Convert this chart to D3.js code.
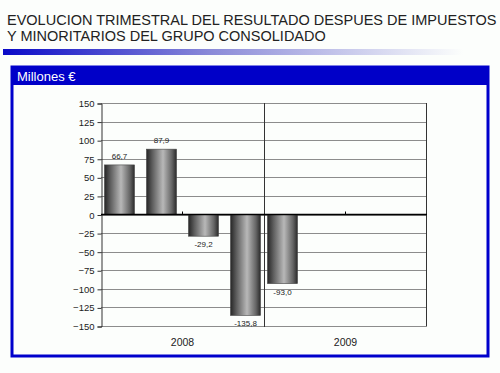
<!DOCTYPE html>
<html>
<head>
<meta charset="utf-8">
<script src="https://cdn.jsdelivr.net/npm/d3@7"></script>
<style>
  body { margin: 0; background: #fcfefc; }
  svg { display: block; font-family: Arial, "Liberation Sans", sans-serif; }
</style>
</head>
<body>
<svg id="chart" width="500" height="373"></svg>
<script>
const years = ["2008", "2009"];
const quarters = ["T1", "T2", "T3", "T4"];
const results = [
  { year: "2008", q: "T1", value: 66.7 },
  { year: "2008", q: "T2", value: 87.9 },
  { year: "2008", q: "T3", value: -29.2 },
  { year: "2008", q: "T4", value: -135.8 },
  { year: "2009", q: "T1", value: -93.0 }
];
const yTicks = [150, 125, 100, 75, 50, 25, 0, -25, -50, -75, -100, -125, -150];

const svg = d3.select("#chart");

// title
const title = svg.append("text")
    .attr("x", 7)
    .attr("y", 25)
    .style("font-size", "14.5px")
    .style("fill", "#222");
title.append("tspan").attr("x", 7).text("EVOLUCION TRIMESTRAL DEL RESULTADO DESPUES DE IMPUESTOS");
title.append("tspan").attr("x", 7).attr("dy", 15.5).text("Y MINORITARIOS DEL GRUPO CONSOLIDADO");

const defs = svg.append("defs");
const band = defs.append("linearGradient").attr("id", "titleBand");
band.append("stop").attr("offset", "0%").attr("stop-color", "#0a0ac8");
band.append("stop").attr("offset", "45%").attr("stop-color", "#8a8ad8");
band.append("stop").attr("offset", "100%").attr("stop-color", "#fcfefc");
svg.append("rect")
    .attr("x", 3).attr("y", 49)
    .attr("width", 460).attr("height", 6)
    .attr("fill", "url(#titleBand)");

const barGrad = defs.append("linearGradient").attr("id", "barGrad");
barGrad.append("stop").attr("offset", "0%").attr("stop-color", "#262626");
barGrad.append("stop").attr("offset", "20%").attr("stop-color", "#5e5e5e");
barGrad.append("stop").attr("offset", "55%").attr("stop-color", "#b8b8b8");
barGrad.append("stop").attr("offset", "85%").attr("stop-color", "#646464");
barGrad.append("stop").attr("offset", "100%").attr("stop-color", "#2a2a2a");

// frame
svg.append("rect")
    .attr("x", 12).attr("y", 67)
    .attr("width", 476).attr("height", 289)
    .attr("fill", "none")
    .attr("stroke", "#0000cc")
    .attr("stroke-width", 3);
svg.append("rect")
    .attr("x", 11).attr("y", 67)
    .attr("width", 478).attr("height", 18)
    .attr("fill", "#0000c8");
svg.append("text")
    .attr("x", 17).attr("y", 81)
    .style("font-size", "13px")
    .style("fill", "#fff")
    .text("Millones €");

// scales
const plotL = 101, plotR = 427, plotT = 103, plotB = 326;
const y = d3.scaleLinear().domain([-150, 150]).range([plotB, plotT]);
const xYear = d3.scaleBand().domain(years).range([plotL, plotR]);
const xQ = d3.scaleBand().domain(quarters)
    .range([0, xYear.bandwidth()])
    .paddingInner(0.286)
    .paddingOuter(0.083);

const g = svg.append("g");

// gridlines
g.append("g")
  .selectAll("line")
  .data(yTicks)
  .join("line")
    .attr("x1", plotL).attr("x2", plotR)
    .attr("y1", d => Math.round(y(d)) + 0.5)
    .attr("y2", d => Math.round(y(d)) + 0.5)
    .attr("stroke", "#8c8c8c")
    .attr("stroke-width", 1);

// y axis
const yAxis = g.append("g")
    .attr("transform", `translate(${plotL + 0.5},0.5)`)
    .call(d3.axisLeft(y).tickValues(yTicks).tickSize(4).tickPadding(3));
yAxis.select(".domain").attr("stroke", "#333");
yAxis.selectAll(".tick line").attr("stroke", "#333");
yAxis.selectAll("text").style("font-size", "9.5px").style("fill", "#222")
    .style("font-family", "Arial, 'Liberation Sans', sans-serif");

// right border and year divider
g.append("line")
    .attr("x1", plotR - 0.5).attr("x2", plotR - 0.5)
    .attr("y1", plotT).attr("y2", plotB)
    .attr("stroke", "#333");
g.append("line")
    .attr("x1", Math.round(xYear("2009")) + 0.5).attr("x2", Math.round(xYear("2009")) + 0.5)
    .attr("y1", plotT).attr("y2", plotB + 1)
    .attr("stroke", "#333");

// bars
g.append("g")
  .selectAll("rect")
  .data(results)
  .join("rect")
    .attr("x", d => xYear(d.year) + xQ(d.q))
    .attr("width", xQ.bandwidth())
    .attr("y", d => y(Math.max(0, d.value)))
    .attr("height", d => Math.abs(y(d.value) - y(0)))
    .attr("fill", "url(#barGrad)")
    .attr("stroke", "#444")
    .attr("stroke-width", 0.6);

// zero line and year ticks
g.append("line")
    .attr("x1", plotL).attr("x2", plotR)
    .attr("y1", y(0)).attr("y2", y(0))
    .attr("stroke", "#000")
    .attr("stroke-width", 1.6);
g.append("g")
  .selectAll("line")
  .data(years)
  .join("line")
    .attr("x1", d => xYear(d) + xYear.bandwidth() / 2)
    .attr("x2", d => xYear(d) + xYear.bandwidth() / 2)
    .attr("y1", y(0) - 3).attr("y2", y(0))
    .attr("stroke", "#000");

// value labels
const fmt = v => v.toFixed(1).replace(".", ",");
g.append("g")
  .selectAll("text")
  .data(results)
  .join("text")
    .attr("x", d => xYear(d.year) + xQ(d.q) + xQ.bandwidth() / 2)
    .attr("y", d => d.value >= 0 ? y(d.value) - 6 : y(d.value) + 11)
    .attr("text-anchor", "middle")
    .style("font-size", "8px")
    .style("fill", "#222")
    .text(d => fmt(d.value));

// year labels
g.append("g")
  .selectAll("text")
  .data(years)
  .join("text")
    .attr("x", d => xYear(d) + xYear.bandwidth() / 2)
    .attr("y", 346)
    .attr("text-anchor", "middle")
    .style("font-size", "10.5px")
    .style("fill", "#222")
    .text(d => d);
</script>
</body>
</html>
